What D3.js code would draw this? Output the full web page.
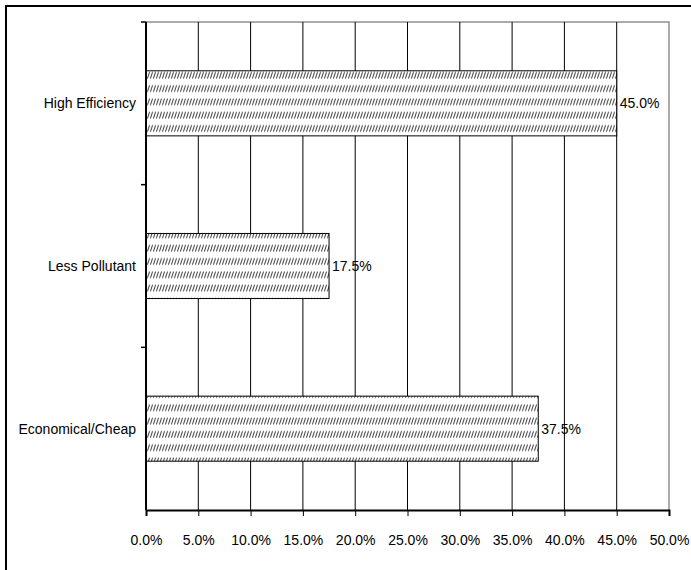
<!DOCTYPE html>
<html>
<head>
<meta charset="utf-8">
<script src="https://cdnjs.cloudflare.com/ajax/libs/d3/7.8.5/d3.min.js"></script>
<style>
  html, body { margin: 0; padding: 0; background: #fff; }
  svg { display: block; }
  text { font-family: "Liberation Sans", Arial, sans-serif; fill: #000; }
</style>
</head>
<body>
<svg id="chart" width="691" height="570"></svg>
<script>
// Survey reasons and their shares (percent)
const categories = ["High Efficiency", "Less Pollutant", "Economical/Cheap"];
const shares = [45.0, 17.5, 37.5];
const xTicks = [0, 5, 10, 15, 20, 25, 30, 35, 40, 45, 50];

const svg = d3.select("#chart");
const margin = { left: 146, right: 691 - 669, top: 22, bottom: 570 - 510 };
const W = 691, H = 570;

// Outer chart frame (runs off the right and bottom of the view)
svg.append("rect")
  .attr("x", 6).attr("y", 6).attr("width", 720).attr("height", 600)
  .attr("fill", "#fff").attr("stroke", "#000").attr("stroke-width", 2);

const x = d3.scaleLinear().domain([0, 50]).range([margin.left, W - margin.right]);
const y = d3.scaleBand().domain(categories).range([margin.top, H - margin.bottom]).paddingInner(0.6).paddingOuter(0.3);
const yEdges = d3.scaleBand().domain(categories).range([margin.top, H - margin.bottom]);

// Diagonal dashed hatch fill
const defs = svg.append("defs");
const pat = defs.append("pattern")
  .attr("id", "hatch").attr("patternUnits", "userSpaceOnUse")
  .attr("width", 3).attr("height", 13.3).attr("y", 2);
pat.append("rect").attr("width", 3).attr("height", 13.3).attr("fill", "#fff");
pat.append("line")
  .attr("x1", 0.4).attr("y1", 10).attr("x2", 2.6).attr("y2", 3.5)
  .attr("stroke", "#444").attr("stroke-width", 1);

// Plot-area border (top and right)
svg.append("path")
  .attr("d", `M${x(0)},${margin.top}H${x(50)}V${H - margin.bottom}`)
  .attr("fill", "none").attr("stroke", "#909090").attr("stroke-width", 1.5);

// Vertical gridlines
svg.append("g").selectAll("line").data(xTicks.slice(1, -1)).join("line")
  .attr("x1", d => x(d)).attr("x2", d => x(d))
  .attr("y1", margin.top).attr("y2", H - margin.bottom)
  .attr("stroke", "#000").attr("stroke-width", 1);

// Bars
svg.append("g").selectAll("rect").data(categories).join("rect")
  .attr("x", x(0))
  .attr("y", d => y(d))
  .attr("width", (d, i) => x(shares[i]) - x(0))
  .attr("height", y.bandwidth())
  .attr("fill", "url(#hatch)")
  .attr("stroke", "#000").attr("stroke-width", 1);

// Value labels
svg.append("g").selectAll("text").data(categories).join("text")
  .attr("x", (d, i) => x(shares[i]) + 3)
  .attr("y", d => y(d) + y.bandwidth() / 2)
  .attr("dy", "0.35em")
  .attr("font-size", 14)
  .text((d, i) => shares[i].toFixed(1) + "%");

// X axis
const xAxis = d3.axisBottom(x).tickValues(xTicks).tickSize(6).tickPadding(19)
  .tickFormat(d => d.toFixed(1) + "%");
const gx = svg.append("g").attr("transform", `translate(0,${H - margin.bottom})`).call(xAxis);
gx.select(".domain").attr("stroke", "#000").attr("stroke-width", 2);
gx.selectAll(".tick line").attr("stroke", "#000");
gx.selectAll(".tick text").attr("font-size", 14).attr("font-family", "Liberation Sans, Arial, sans-serif");

// Y axis: ticks at band edges, labels at band centres
const gy = svg.append("g");
gy.append("line")
  .attr("x1", x(0)).attr("x2", x(0))
  .attr("y1", margin.top).attr("y2", H - margin.bottom)
  .attr("stroke", "#000").attr("stroke-width", 2);
const edges = categories.map(c => yEdges(c));
gy.selectAll(".edge").data(edges).join("line").attr("class", "edge")
  .attr("x1", x(0) - 5).attr("x2", x(0))
  .attr("y1", d => d).attr("y2", d => d)
  .attr("stroke", "#000").attr("stroke-width", 1.5);
gy.selectAll("text").data(categories).join("text")
  .attr("x", x(0) - 10)
  .attr("y", d => yEdges(d) + yEdges.bandwidth() / 2)
  .attr("dy", "0.35em")
  .attr("text-anchor", "end")
  .attr("font-size", 14)
  .text(d => d);
</script>
</body>
</html>
